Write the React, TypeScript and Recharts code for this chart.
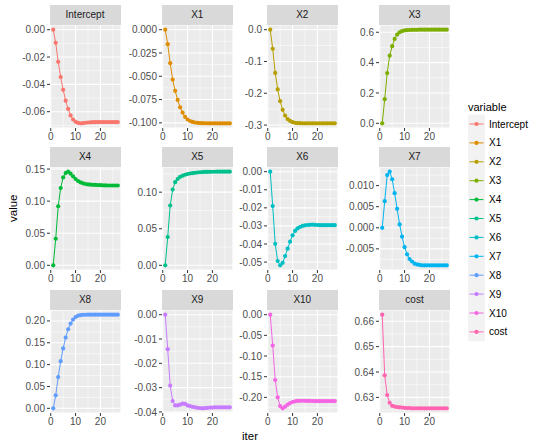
import React from "react";
import {CartesianGrid, Line, LineChart, ReferenceLine, XAxis, YAxis} from "recharts";

const iter = [1, 2, 3, 4, 5, 6, 7, 8, 9, 10, 11, 12, 13, 14, 15, 16, 17, 18, 19, 20, 21, 22, 23, 24, 25, 26, 27];
const iterTicks = [0, 10, 20];

const variables = ["Intercept", "X1", "X2", "X3", "X4", "X5", "X6", "X7", "X8", "X9", "X10", "cost"];
const colors = ["#F8766D", "#DE8C00", "#B79F00", "#7CAE00", "#00BA38", "#00C08B", "#00BFC4", "#00B4F0", "#619CFF", "#C77CFF", "#F564E3", "#FF64B0"];

const interceptValues = [0, -0.0096, -0.0235, -0.0346, -0.044, -0.0519, -0.058, -0.0627, -0.0657, -0.0674, -0.0682, -0.0685, -0.0684, -0.0681, -0.0679, -0.0678, -0.0677, -0.0677, -0.0677, -0.0676, -0.0676, -0.0676, -0.0676, -0.0676, -0.0676, -0.0676, -0.0676];
const x1Values = [0, -0.0156, -0.036, -0.0536, -0.0656, -0.0754, -0.0833, -0.089, -0.0935, -0.0964, -0.098, -0.099, -0.0996, -0.1, -0.1002, -0.1003, -0.1004, -0.1004, -0.1005, -0.1005, -0.1005, -0.1005, -0.1005, -0.1005, -0.1005, -0.1005, -0.1005];
const x2Values = [0, -0.06, -0.136, -0.188, -0.225, -0.252, -0.27, -0.281, -0.287, -0.291, -0.293, -0.294, -0.294, -0.2945, -0.2945, -0.2945, -0.2945, -0.2945, -0.2945, -0.2945, -0.2945, -0.2945, -0.2945, -0.2945, -0.2945, -0.2945, -0.2945];
const x3Values = [0, 0.159, 0.331, 0.446, 0.508, 0.556, 0.585, 0.6, 0.608, 0.612, 0.614, 0.615, 0.616, 0.616, 0.616, 0.617, 0.617, 0.617, 0.617, 0.617, 0.617, 0.617, 0.617, 0.617, 0.617, 0.617, 0.617];
const x4Values = [0, 0.0414, 0.092, 0.1205, 0.137, 0.1438, 0.1459, 0.1428, 0.1386, 0.1345, 0.1314, 0.1292, 0.1277, 0.1267, 0.126, 0.1256, 0.1254, 0.1253, 0.1251, 0.1248, 0.1246, 0.1245, 0.1244, 0.1244, 0.1244, 0.1244, 0.1244];
const x5Values = [0, 0.0386, 0.0818, 0.1036, 0.1136, 0.118, 0.121, 0.1226, 0.1238, 0.1248, 0.1255, 0.1261, 0.1265, 0.1269, 0.1272, 0.1274, 0.1276, 0.1277, 0.1278, 0.1279, 0.1279, 0.128, 0.128, 0.128, 0.128, 0.128, 0.128];
const x6Values = [0, -0.019, -0.0399, -0.0494, -0.0518, -0.0504, -0.0467, -0.0426, -0.0387, -0.0352, -0.0328, -0.0314, -0.0306, -0.03, -0.0297, -0.0295, -0.0294, -0.0293, -0.0294, -0.0295, -0.0296, -0.0296, -0.0296, -0.0296, -0.0296, -0.0296, -0.0296];
const x7Values = [0, 0.0063, 0.0125, 0.0133, 0.0115, 0.0082, 0.0045, 0.0008, -0.0021, -0.0046, -0.0063, -0.0074, -0.008, -0.0085, -0.0087, -0.0088, -0.0089, -0.0089, -0.0089, -0.0089, -0.0089, -0.0089, -0.0089, -0.0089, -0.0089, -0.0089, -0.0089];
const x8Values = [0, 0.0297, 0.0715, 0.108, 0.137, 0.162, 0.181, 0.194, 0.203, 0.209, 0.212, 0.2135, 0.214, 0.2142, 0.2143, 0.2143, 0.2143, 0.2143, 0.2143, 0.2143, 0.2143, 0.2143, 0.2143, 0.2143, 0.2143, 0.2143, 0.2143];
const x9Values = [0, -0.0142, -0.0292, -0.0355, -0.0373, -0.0373, -0.037, -0.0366, -0.0367, -0.0373, -0.0376, -0.0379, -0.0381, -0.0383, -0.0384, -0.0385, -0.0384, -0.0383, -0.0382, -0.0382, -0.0381, -0.0381, -0.0381, -0.0381, -0.0381, -0.0381, -0.0381];
const x10Values = [0, -0.0747, -0.158, -0.2, -0.221, -0.2265, -0.2225, -0.2177, -0.2137, -0.2112, -0.2095, -0.2087, -0.2083, -0.2082, -0.2083, -0.2085, -0.2087, -0.2088, -0.2089, -0.209, -0.209, -0.209, -0.209, -0.209, -0.209, -0.209, -0.209];
const costValues = [0.6626, 0.6387, 0.6309, 0.6279, 0.6267, 0.6264, 0.6262, 0.6261, 0.626, 0.6259, 0.6258, 0.6258, 0.6257, 0.6257, 0.6257, 0.6257, 0.6257, 0.6257, 0.6257, 0.6257, 0.6257, 0.6257, 0.6257, 0.6257, 0.6257, 0.6257, 0.6257];

// y tick labels per facet, as printed
const interceptTicks = ["0.00", "-0.02", "-0.04", "-0.06"];
const x1Ticks = ["0.000", "-0.025", "-0.050", "-0.075", "-0.100"];
const x2Ticks = ["0.0", "-0.1", "-0.2", "-0.3"];
const x3Ticks = ["0.0", "0.2", "0.4", "0.6"];
const x4Ticks = ["0.00", "0.05", "0.10", "0.15"];
const x5Ticks = ["0.00", "0.05", "0.10"];
const x6Ticks = ["0.00", "-0.01", "-0.02", "-0.03", "-0.04", "-0.05"];
const x7Ticks = ["-0.005", "0.000", "0.005", "0.010"];
const x8Ticks = ["0.00", "0.05", "0.10", "0.15", "0.20"];
const x9Ticks = ["0.00", "-0.01", "-0.02", "-0.03", "-0.04"];
const x10Ticks = ["0.00", "-0.05", "-0.10", "-0.15", "-0.20"];
const costTicks = ["0.63", "0.64", "0.65", "0.66"];

const seriesValues = [interceptValues, x1Values, x2Values, x3Values, x4Values, x5Values, x6Values, x7Values, x8Values, x9Values, x10Values, costValues];
const seriesTicks = [interceptTicks, x1Ticks, x2Ticks, x3Ticks, x4Ticks, x5Ticks, x6Ticks, x7Ticks, x8Ticks, x9Ticks, x10Ticks, costTicks];

const FONT = "'Liberation Sans', Arial, sans-serif";
const colLeft = [49.5, 161.8, 266.8, 379];
const rowTop = [5, 147, 290];
const panelW = 71;
const stripH = 20;
const plotH = 103;
const YW = 50;
const XH = 22;
const PAD = 8; // room above plot so top tick labels are not clipped

function expand(vals: number[]): [number, number] {
    const lo = Math.min(...vals);
    const hi = Math.max(...vals);
    const pad = (hi - lo) * 0.05;
    return [lo - pad, hi + pad];
}

function minorBreaks(major: number[], domain: [number, number]) {
    const s = [...major].sort((a, b) => a - b);
    const step = s[1] - s[0];
    const out: number[] = [];
    for (let v = s[0] - step / 2; v <= s[s.length - 1] + step; v += step) {
        if (v > domain[0] && v < domain[1]) out.push(v);
    }
    return out;
}

function Facet({idx}: {idx: number}) {
    const col = idx % 4;
    const row = Math.floor(idx / 4);
    const values = seriesValues[idx];
    const labels = seriesTicks[idx];
    const color = colors[idx];
    const yTicks = labels.map(Number);
    const yDomain = expand(values);
    const xDomain = expand(iter);
    const data = iter.map((it, i) => ({iter: it, value: values[i]}));
    const label = (v: number) => labels[yTicks.indexOf(v)] ?? String(v);
    const left = colLeft[col];
    const top = rowTop[row];
    return (
        <>
            <div style={{position: "absolute", left: left - YW, top: top + stripH - PAD}}>
                <LineChart width={YW + panelW} height={plotH + XH + PAD} data={data}
                           margin={{top: PAD, right: 0, left: 0, bottom: 0}}>
                    <CartesianGrid fill="#EBEBEB" stroke="#FFFFFF" strokeWidth={1.1} />
                    {minorBreaks(yTicks, yDomain).map(v =>
                        <ReferenceLine key={"y" + v} y={v} stroke="#FFFFFF" strokeWidth={0.55} />)}
                    {minorBreaks(iterTicks, xDomain).map(v =>
                        <ReferenceLine key={"x" + v} x={v} stroke="#FFFFFF" strokeWidth={0.55} />)}
                    <XAxis type="number" dataKey="iter" domain={xDomain} ticks={iterTicks} allowDataOverflow
                           height={XH} axisLine={false} tickLine={{stroke: "#333333"}} tickSize={3} tickMargin={2}
                           interval={0} tick={{fontSize: 10, fill: "#4D4D4D"}} />
                    <YAxis type="number" domain={yDomain} ticks={yTicks} allowDataOverflow width={YW}
                           axisLine={false} tickLine={{stroke: "#333333"}} tickSize={3} tickMargin={2}
                           interval={0} tickFormatter={label} tick={{fontSize: 10, fill: "#4D4D4D"}} />
                    <Line type="linear" dataKey="value" stroke={color} strokeWidth={1}
                          dot={{r: 2.1, fill: color, stroke: "none"}} activeDot={false} isAnimationActive={false} />
                </LineChart>
            </div>
            <div style={{
                position: "absolute", left, top, width: panelW, height: stripH, background: "#D9D9D9",
                color: "#1A1A1A", fontSize: 10, lineHeight: stripH + "px", textAlign: "center"
            }}>{variables[idx]}</div>
        </>
    );
}

function Legend() {
    const keyH = 18.9;
    const top0 = 124 - keyH / 2;
    return (
        <svg width={90} height={260} style={{position: "absolute", left: 450, top: 90}}>
            <text x={18} y={21} fontSize={11} fill="#000">variable</text>
            <rect x={18} y={top0 - 90} width={17} height={keyH * variables.length} fill="#F2F2F2" />
            {variables.map((v, i) => {
                const cy = top0 - 90 + keyH * i + keyH / 2;
                return (
                    <g key={v}>
                        <line x1={19.5} x2={33.5} y1={cy} y2={cy} stroke={colors[i]} strokeWidth={1} />
                        <circle cx={26.5} cy={cy} r={2.1} fill={colors[i]} />
                        <text x={39} y={cy} dy="0.35em" fontSize={10} fill="#000">{v}</text>
                    </g>
                );
            })}
        </svg>
    );
}

export default function App() {
    return (
        <div style={{position: "absolute", left: 0, top: 0, width: 540, height: 448, background: "#FFFFFF", fontFamily: FONT}}>
            {variables.map((v, i) => <Facet key={v} idx={i} />)}
            <Legend />
            <div style={{position: "absolute", left: 2, top: 211, width: 22, transform: "translateY(-50%)"}}>
                <div style={{transform: "rotate(-90deg)", fontSize: 11.5, color: "#000", textAlign: "center", whiteSpace: "nowrap"}}>value</div>
            </div>
            <div style={{position: "absolute", left: 200, width: 100, top: 430, fontSize: 11.5, color: "#000", textAlign: "center"}}>iter</div>
        </div>
    );
}
